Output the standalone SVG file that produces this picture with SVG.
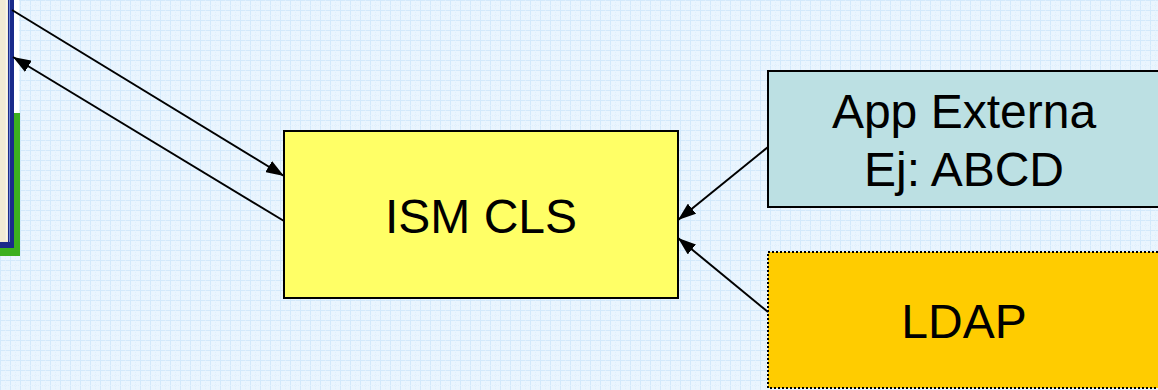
<svg xmlns="http://www.w3.org/2000/svg" width="1158" height="390" viewBox="0 0 1158 390">
  <defs>
    <pattern id="grid" width="10" height="10" patternUnits="userSpaceOnUse">
      <rect width="10" height="10" fill="#eaf5fe"/>
      <path d="M0 0.5H10M0.5 0V10" stroke="#d3e9fb" stroke-width="1" fill="none"/>
      <path d="M0 5.5H10M5.5 0V10" stroke="#e0effc" stroke-width="1" fill="none" stroke-dasharray="1 1"/>
    </pattern>
    <marker id="arrow" viewBox="0 0 18 13" refX="18" refY="6.5" markerWidth="18" markerHeight="13" markerUnits="userSpaceOnUse" orient="auto">
      <path d="M0 0L18 6.5L0 13Z" fill="#000"/>
    </marker>
  </defs>
  <style>
    .lbl { font-family: "Liberation Sans", Arial, sans-serif; font-size: 48px; fill: #000; text-anchor: middle; }
    .conn { stroke: #000; stroke-width: 2; fill: none; }
    .box { stroke: #000; stroke-width: 2; }
  </style>
  <rect width="1158" height="390" fill="url(#grid)"/>

  <g id="left-window">
    <rect x="-10" y="-10" width="29" height="123" fill="#ffffff"/>
    <rect x="-10" y="113" width="30" height="143" fill="#3cb01e"/>
    <rect x="-10" y="-10" width="21" height="255" fill="#f0ead4" stroke="#1a2a8a" stroke-width="6"/>
    <line x1="9.5" y1="0" x2="9.5" y2="242" stroke="#6f86d8" stroke-width="1"/>
    <line x1="6.5" y1="0" x2="6.5" y2="240" stroke="#f8f5ea" stroke-width="1.5"/>
  </g>

  <g id="ism-cls">
    <rect class="box" x="284" y="131" width="394" height="167" fill="#ffff66"/>
    <text class="lbl" x="481" y="233">ISM CLS</text>
  </g>

  <g id="app-externa">
    <rect class="box" x="768" y="71" width="400" height="136" fill="#bce0e3"/>
    <text class="lbl" x="964" y="128">App Externa</text>
    <text class="lbl" x="964" y="186">Ej: ABCD</text>
  </g>

  <g id="ldap">
    <rect x="768" y="252" width="400" height="136" fill="#ffcc00" stroke="#000" stroke-width="2" stroke-dasharray="2 2"/>
    <text class="lbl" x="964" y="338">LDAP</text>
  </g>

  <g id="connectors">
    <line class="conn" x1="12" y1="10" x2="284" y2="176" marker-end="url(#arrow)"/>
    <line class="conn" x1="284" y1="221" x2="13" y2="57" marker-end="url(#arrow)"/>
    <line class="conn" x1="768" y1="147" x2="678" y2="220" marker-end="url(#arrow)"/>
    <line class="conn" x1="768" y1="312" x2="678" y2="238" marker-end="url(#arrow)"/>
  </g>
</svg>
